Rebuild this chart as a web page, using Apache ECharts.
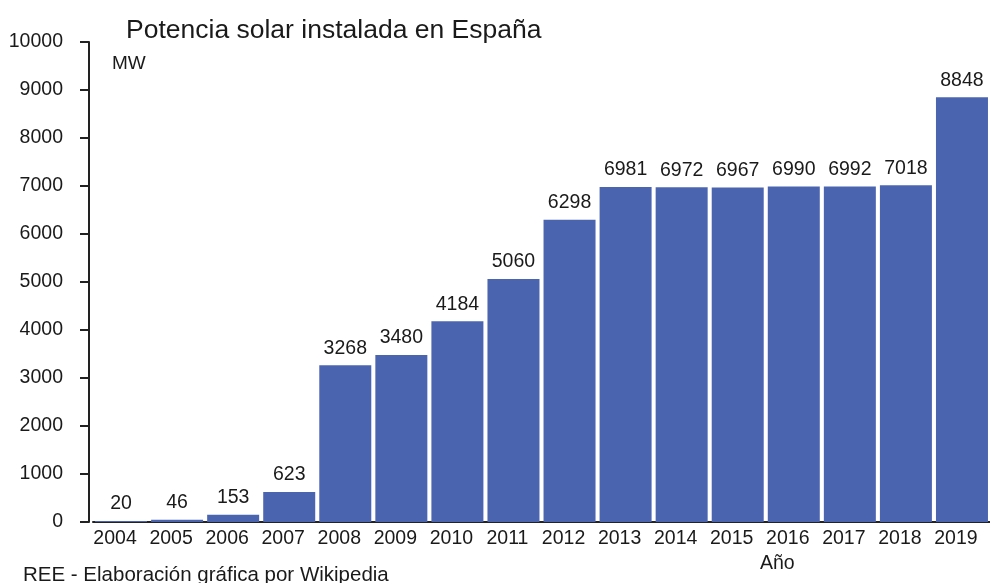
<!DOCTYPE html>
<html lang="es">
<head>
    <meta charset="UTF-8">
    <title>Potencia solar instalada en España</title>
    <script src="https://cdn.jsdelivr.net/npm/echarts@6/dist/echarts.min.js"></script>
    <style>
        html, body { margin: 0; padding: 0; background: #fff; }
    </style>
</head>
<body>
<div id="main" style="height:583px;width:990px"></div>

<script type="text/javascript">
    // datos: potencia solar instalada (MW), fuente REE
    var years = ['2004', '2005', '2006', '2007', '2008', '2009', '2010', '2011',
                 '2012', '2013', '2014', '2015', '2016', '2017', '2018', '2019'];
    var power = [20, 46, 153, 623, 3268, 3480, 4184, 5060,
                 6298, 6981, 6972, 6967, 6990, 6992, 7018, 8848];
    var yTicks = [0, 1000, 2000, 3000, 4000, 5000, 6000, 7000, 8000, 9000, 10000];

    var textColor = '#1a1a1a';
    var font = 'Liberation Sans, Arial, sans-serif';

    var myChart = echarts.init(document.getElementById('main'));
    myChart.setOption({
        animation: false,
        textStyle: { fontFamily: font },
        title: [
            {
                text: 'Potencia solar instalada en España',
                left: 121, top: 12,
                textStyle: { fontSize: 26.5, fontWeight: 'normal', color: textColor, fontFamily: font }
            },
            {
                text: 'MW',
                left: 107, top: 49,
                textStyle: { fontSize: 19, fontWeight: 'normal', color: textColor, fontFamily: font }
            },
            {
                text: 'Año',
                left: 755, top: 549,
                textStyle: { fontSize: 19.5, fontWeight: 'normal', color: textColor, fontFamily: font }
            },
            {
                text: 'REE - Elaboración gráfica por Wikipedia',
                left: 18, top: 560,
                textStyle: { fontSize: 20.5, fontWeight: 'normal', color: textColor, fontFamily: font }
            }
        ],
        grid: {
            left: 93,
            top: 42,
            width: 900,
            height: 480,
            containLabel: false
        },
        xAxis: {
            type: 'category',
            data: years,
            axisLine: { lineStyle: { color: '#222', width: 2 } },
            axisTick: { show: false },
            axisLabel: {
                color: textColor, fontSize: 19.5, margin: 7,
                padding: [0, 12, 0, 0], interval: 0
            }
        },
        yAxis: {
            type: 'value',
            min: yTicks[0],
            max: yTicks[yTicks.length - 1],
            interval: 1000,
            offset: 4,
            axisLine: { show: true, lineStyle: { color: '#222', width: 2 } },
            axisTick: { show: true, length: 9, lineStyle: { color: '#222', width: 2 } },
            splitLine: { show: false },
            axisLabel: {
                color: textColor, fontSize: 19.5, margin: 26,
                formatter: function (v) { return String(v); }
            }
        },
        series: [
            {
                name: 'MW',
                type: 'bar',
                data: power,
                barWidth: 52,
                itemStyle: { color: '#4a64b0' },
                label: {
                    show: true,
                    position: 'top',
                    distance: 7,
                    color: textColor,
                    fontSize: 19.5
                }
            }
        ]
    });
</script>
</body>
</html>
